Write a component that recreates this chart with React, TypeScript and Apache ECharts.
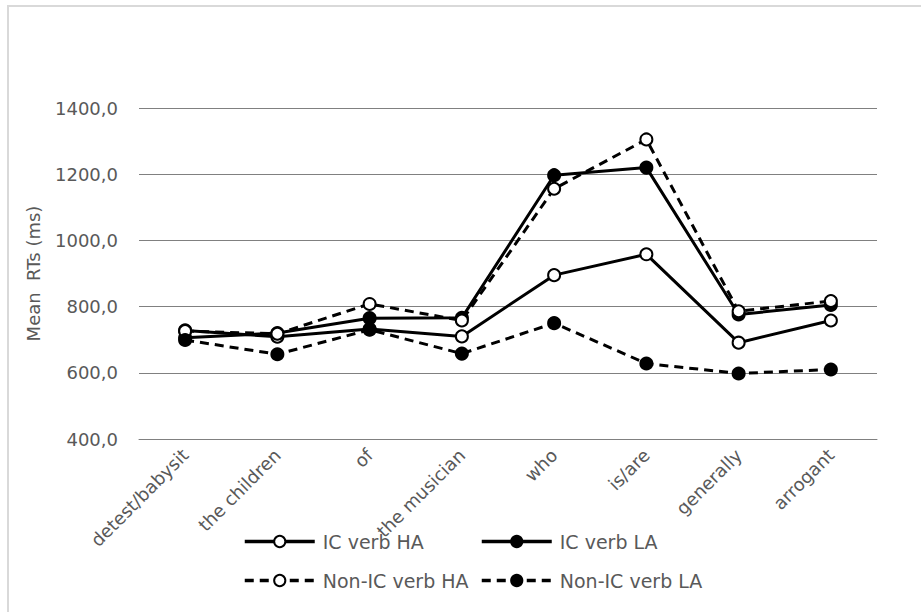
import React, { useEffect, useRef } from "react";
import * as echarts from "echarts";

const categories = ["detest/babysit", "the children", "of", "the musician", "who", "is/are", "generally", "arrogant"];
const icVerbHA = [728, 709, 732, 710, 895, 958, 691, 758];
const icVerbLA = [706, 720, 765, 766, 1197, 1220, 776, 805];
const nonIcVerbHA = [726, 718, 808, 758, 1156, 1305, 786, 817];
const nonIcVerbLA = [699, 656, 730, 658, 750, 628, 598, 610];
const seriesNames = ["IC verb HA", "IC verb LA", "Non-IC verb HA", "Non-IC verb LA"];
const yTicks = { min: 400, max: 1400, interval: 200 };

const FONT = "DejaVu Sans";
const TXT = "#595959";

export default function App() {
  const ref = useRef<HTMLDivElement>(null);
  useEffect(() => {
    if (!ref.current) return;
    const chart = echarts.init(ref.current, undefined, { renderer: "svg" });
    const mk = (name: string, data: number[], dashed: boolean, filled: boolean) => ({
      name,
      type: "line",
      data,
      symbol: "circle",
      symbolSize: 12,
      lineStyle: { color: "#000", width: 3, type: dashed ? [9, 6] : "solid" },
      itemStyle: { color: filled ? "#000" : "#fff", borderColor: "#000", borderWidth: 2 },
      emphasis: { disabled: true },
    });
    const legendBase = {
      itemWidth: 70,
      itemHeight: 14,
      padding: 0,
      lineStyle: { width: 3.5 },
      textStyle: { fontSize: 19, color: TXT, fontFamily: FONT, padding: [0, 0, 0, 3] },
      selectedMode: false,
    };
    chart.setOption({
      animation: false,
      graphic: [
        {
          type: "rect",
          shape: { x: 8, y: 6, width: 1000, height: 800 },
          style: { fill: "none", stroke: "#d9d9d9", lineWidth: 2 },
          silent: true,
        },
      ],
      grid: { left: 139, right: 44, top: 108, bottom: 173 },
      xAxis: {
        type: "category",
        data: categories,
        boundaryGap: true,
        axisLine: { show: true, lineStyle: { color: "#808080", width: 1 } },
        axisTick: { show: false },
        axisLabel: { rotate: 45, color: TXT, fontSize: 18, fontFamily: FONT, margin: 13, interval: 0 },
      },
      yAxis: {
        type: "value",
        min: yTicks.min,
        max: yTicks.max,
        interval: yTicks.interval,
        name: "Mean  RTs (ms)",
        nameLocation: "middle",
        nameGap: 97,
        nameTextStyle: { color: TXT, fontSize: 18, fontFamily: FONT },
        axisLine: { show: false },
        axisTick: { show: false },
        splitLine: { lineStyle: { color: "#808080", width: 1 } },
        axisLabel: {
          color: TXT,
          fontSize: 18,
          fontFamily: FONT,
          margin: 21,
          formatter: (v: number) => v.toFixed(1).replace(".", ","),
        },
      },
      legend: [
        { ...legendBase, data: [seriesNames[0]], left: 243, top: 532 },
        { ...legendBase, data: [seriesNames[1]], left: 480, top: 532 },
        { ...legendBase, data: [seriesNames[2]], left: 243, top: 571 },
        { ...legendBase, data: [seriesNames[3]], left: 480, top: 571 },
      ],
      series: [
        mk(seriesNames[0], icVerbHA, false, false),
        mk(seriesNames[1], icVerbLA, false, true),
        mk(seriesNames[2], nonIcVerbHA, true, false),
        mk(seriesNames[3], nonIcVerbLA, true, true),
      ],
    });
    return () => chart.dispose();
  }, []);
  return (
    <div
      ref={ref}
      style={{ position: "fixed", left: 0, top: 0, width: 921, height: 612, background: "#fff" }}
    />
  );
}
